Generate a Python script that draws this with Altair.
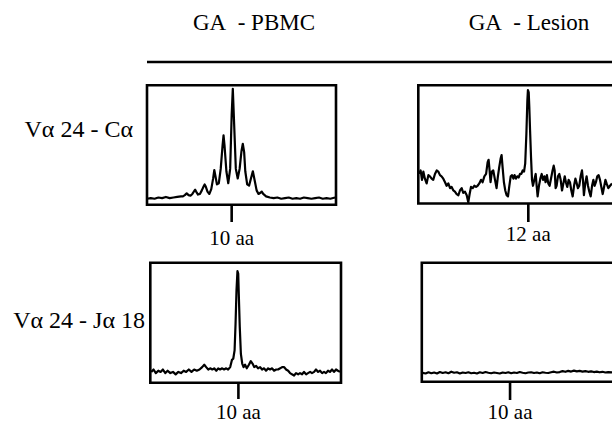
import altair as alt
import pandas as pd

# ---------------- data ----------------
COL_TITLES = ["GA\u00a0 - PBMC", "GA\u00a0 - Lesion"]
ROW_TITLES = ["Vα 24 - Cα", "Vα 24 - Jα 18"]
TICK_POS = [44.8, 56.8, 46.2, 46.4]          # position (0-100 across panel) of the size marker
TICK_LABELS = ["10 aa", "12 aa", "10 aa", "10 aa"]

# (position 0-100 across panel, relative intensity 0-1)
TRACE_PBMC_CA = [
    (0, .05), (2, .055), (4, .05), (6, .06), (8, .055), (10, .065), (12, .055), (14, .06),
    (16, .065), (18, .07), (19, .07), (20, .08), (21, .095), (22, .08), (23, .075), (24, .09),
    (25, .115), (25.5, .125), (26, .11), (27, .085), (28, .09), (29, .12), (30, .155), (30.5, .17),
    (31, .155), (32, .11), (33, .09), (34, .13), (35, .22), (35.6, .29), (36.2, .24), (37, .17),
    (38, .18), (39, .3), (40, .5), (40.5, .58), (41, .5), (42, .28), (43, .18), (44, .3),
    (44.8, .75), (45.4, .97), (46, .72), (47, .3), (48, .22), (49, .3), (50, .45), (50.7, .51),
    (51.4, .44), (52, .28), (53, .17), (54, .16), (55, .22), (56, .28), (57, .2), (58, .12),
    (59, .09), (60, .1), (60.7, .11), (61.5, .09), (63, .07), (65, .06), (67, .055), (69, .06),
    (71, .05), (73, .055), (75, .06), (77, .05), (79, .055), (81, .05), (83, .06), (85, .055),
    (87, .05), (89, .055), (91, .06), (93, .05), (95, .055), (97, .05), (99.5, .06),
]

TRACE_LESION_CA = [
    (0.5, .25), (1.2, .28), (1.9, .20), (2.6, .27), (3.4, .21), (4.3, .17), (5.2, .24), (6.0, .23),
    (6.9, .21), (7.7, .20), (8.6, .25), (9.5, .28), (10.3, .27), (11.2, .24), (12.0, .23), (12.9, .21),
    (13.8, .18), (14.6, .15), (15.5, .17), (16.4, .13), (17.2, .14), (18.1, .11), (18.9, .10), (19.8, .08),
    (20.7, .07), (21.5, .11), (22.4, .13), (23.2, .09), (24.1, .10), (25.0, .07), (25.8, .01), (26.5, .08),
    (27.2, .14), (28.1, .13), (28.9, .15), (29.8, .14), (30.6, .15), (31.5, .17), (32.4, .20), (33.2, .18),
    (34.1, .23), (35.0, .25), (35.8, .35), (36.3, .37), (36.8, .28), (37.3, .18), (38.0, .27), (38.7, .28),
    (39.6, .20), (40.4, .13), (41.1, .23), (41.8, .31), (42.5, .38), (43.0, .41), (43.5, .31), (44.2, .18),
    (44.9, .11), (45.6, .07), (46.3, .06), (47.0, .15), (47.7, .23), (48.4, .24), (49.1, .21), (49.7, .24),
    (50.4, .21), (51.1, .23), (51.8, .22), (52.5, .25), (53.2, .25), (53.9, .28), (54.6, .27), (55.2, .34),
    (55.8, .59), (56.3, .87), (56.6, .96), (57.0, .94), (57.3, .82), (57.7, .62), (58.2, .39), (58.7, .20),
    (59.2, .15), (59.9, .20), (60.6, .25), (61.1, .15), (61.6, .06), (62.3, .15), (63.0, .21), (63.7, .25),
    (64.4, .20), (65.1, .23), (65.7, .18), (66.4, .24), (67.1, .17), (67.8, .15), (68.5, .21), (69.2, .27),
    (69.9, .32), (70.4, .28), (70.9, .13), (71.4, .15), (72.1, .23), (72.8, .25), (73.5, .20), (74.2, .11),
    (74.9, .17), (75.6, .23), (76.2, .18), (76.9, .14), (77.6, .20), (78.3, .18), (79.0, .11), (79.7, .06),
    (80.4, .15), (81.1, .21), (81.8, .17), (82.4, .13), (83.1, .15), (83.8, .23), (84.5, .28), (85.0, .20),
    (85.5, .07), (86.2, .17), (86.9, .23), (87.6, .15), (88.3, .10), (89.0, .06), (89.7, .15), (90.4, .20),
    (91.0, .15), (91.7, .18), (92.4, .23), (93.1, .24), (93.8, .20), (94.5, .14), (95.2, .08), (95.9, .14),
    (96.6, .20), (97.2, .17), (98.1, .13), (99.0, .15), (100, .17),
]

TRACE_PBMC_JA18 = [
    (0.5, .09), (1.7, .11), (2.9, .08), (4.2, .10), (5.4, .09), (6.6, .11), (7.9, .08), (9.1, .10),
    (10.5, .08), (11.9, .09), (13.3, .07), (14.7, .09), (16.1, .08), (17.5, .10), (18.8, .09), (20.2, .11),
    (21.6, .09), (23.0, .11), (24.4, .10), (25.8, .11), (27.2, .13), (28.3, .15), (29.3, .13), (30.4, .11),
    (31.4, .12), (32.5, .11), (33.5, .12), (34.6, .10), (35.6, .12), (36.6, .11), (37.7, .12), (38.7, .11),
    (39.8, .12), (40.8, .11), (41.9, .13), (42.8, .19), (43.5, .20), (44.2, .27), (44.7, .49), (45.2, .77),
    (45.7, .93), (46.1, .91), (46.4, .74), (46.9, .47), (47.5, .24), (48.2, .16), (48.9, .13), (49.7, .15),
    (50.6, .12), (51.7, .15), (52.7, .18), (53.6, .16), (54.5, .13), (55.5, .14), (56.5, .12), (57.6, .13),
    (58.6, .11), (59.7, .12), (60.7, .10), (61.8, .12), (62.8, .11), (63.9, .12), (64.9, .10), (66.0, .11),
    (67.0, .11), (68.1, .12), (69.1, .13), (70.2, .13), (71.2, .11), (72.3, .10), (73.3, .08), (74.3, .07),
    (75.4, .06), (76.4, .08), (77.5, .07), (78.5, .08), (79.6, .07), (80.6, .09), (81.7, .07), (82.7, .08),
    (83.8, .09), (84.8, .08), (85.9, .09), (86.9, .11), (88.0, .09), (89.0, .10), (90.1, .08), (91.1, .09),
    (92.1, .08), (93.2, .10), (94.2, .09), (95.3, .11), (96.3, .09), (97.4, .11), (98.4, .10), (99.5, .09),
]

TRACE_LESION_JA18 = [
    (0.5, .075), (2, .07), (3.5, .08), (5, .072), (6.5, .078), (8, .07), (9.5, .082), (11, .074),
    (12.5, .08), (14, .072), (15.5, .085), (17, .076), (18.5, .08), (20, .07), (21.5, .078), (23, .074),
    (24.5, .08), (26, .072), (27.5, .076), (29, .07), (30.5, .08), (32, .074), (33.5, .082), (35, .076),
    (36.5, .072), (38, .078), (39.5, .074), (41, .07), (42.5, .078), (44, .074), (45.5, .08), (47, .072),
    (48.5, .078), (50, .074), (51.5, .082), (53, .076), (54.5, .072), (56, .078), (57.5, .08), (59, .074),
    (60.5, .078), (62, .072), (63.5, .08), (65, .076), (66.5, .074), (68, .08), (69.5, .085), (71, .078),
    (72.5, .082), (74, .09), (75.5, .084), (77, .092), (78.5, .086), (80, .094), (81.5, .088), (83, .092),
    (84.5, .086), (86, .09), (87.5, .084), (89, .088), (90.5, .082), (92, .086), (93.5, .08), (95, .084),
    (96.5, .078), (98, .082), (100, .08),
]

TRACES = [TRACE_PBMC_CA, TRACE_LESION_CA, TRACE_PBMC_JA18, TRACE_LESION_JA18]

# ---------------- layout / style ----------------
FONT = "Liberation Serif"
W, H = 612, 426
# panel geometry in pixels: x range, y range (bottom, top), frame right edge, tick end, label baseline
GEOM = [
    dict(xr=(147, 336), yr=(204.7, 85.3), fx2=336, tick_end=222, lab_y=245),
    dict(xr=(418.3, 612), yr=(203.5, 85.3), fx2=640, tick_end=222, lab_y=241),
    dict(xr=(150.3, 341), yr=(382.7, 262.8), fx2=341, tick_end=399, lab_y=419),
    dict(xr=(421.8, 612), yr=(381.8, 262.8), fx2=640, tick_end=400, lab_y=419),
]
ONE = pd.DataFrame({"k": [0]})


def panel(trace, g, tick_u, tick_label):
    df = pd.DataFrame(trace, columns=["u", "v"])
    xs = alt.Scale(domain=[0, 100], range=list(g["xr"]), nice=False, zero=False)
    ys = alt.Scale(domain=[0, 1], range=list(g["yr"]), nice=False, zero=False)
    line = alt.Chart(df).mark_line(color="black", strokeWidth=2.2, strokeJoin="round").encode(
        x=alt.X("u:Q", scale=xs, axis=None),
        y=alt.Y("v:Q", scale=ys, axis=None),
    )
    frame = alt.Chart(ONE).mark_rect(fillOpacity=0, stroke="black", strokeWidth=2.6).encode(
        x=alt.value(g["xr"][0]), x2=alt.value(g["fx2"]),
        y=alt.value(g["yr"][1]), y2=alt.value(g["yr"][0]),
    )
    tdf = pd.DataFrame({"u": [tick_u], "lab": [tick_label]})
    tick = alt.Chart(tdf).mark_rule(color="black", strokeWidth=2.6).encode(
        x=alt.X("u:Q", scale=xs, axis=None),
        y=alt.value(g["yr"][0]), y2=alt.value(g["tick_end"]),
    )
    lab = alt.Chart(tdf).mark_text(font=FONT, fontSize=21, color="black",
                                   align="center", baseline="alphabetic").encode(
        x=alt.X("u:Q", scale=xs, axis=None),
        y=alt.value(g["lab_y"]),
        text="lab:N",
    )
    return [frame, line, tick, lab]


layers = []
for tr, g, tu, tl in zip(TRACES, GEOM, TICK_POS, TICK_LABELS):
    layers += panel(tr, g, tu, tl)

# column headers and rule
for txt, cx in zip(COL_TITLES, [254, 529]):
    layers.append(alt.Chart(pd.DataFrame({"t": [txt]})).mark_text(
        font=FONT, fontSize=23, color="black", align="center", baseline="alphabetic"
    ).encode(x=alt.value(cx), y=alt.value(30), text="t:N"))
layers.append(alt.Chart(ONE).mark_rule(color="black", strokeWidth=2.6).encode(
    x=alt.value(147), x2=alt.value(612), y=alt.value(62)))

# row labels
for txt, rx, by in zip(ROW_TITLES, [133, 145], [137, 328]):
    layers.append(alt.Chart(pd.DataFrame({"t": [txt]})).mark_text(
        font=FONT, fontSize=24, color="black", align="right", baseline="alphabetic"
    ).encode(x=alt.value(rx), y=alt.value(by), text="t:N"))

chart = alt.layer(*layers).resolve_scale(x="independent", y="independent").properties(
    width=W, height=H, padding=0, autosize=alt.AutoSizeParams(type="none"),
    background="white",
).configure_view(stroke=None)

chart.save("out.html", embed_options={"renderer": "svg", "actions": False})
